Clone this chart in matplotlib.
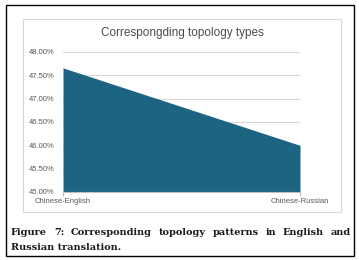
import matplotlib.pyplot as plt
from matplotlib.patches import Rectangle
from matplotlib.ticker import FuncFormatter

# data
categories = ['Chinese-English', 'Chinese-Russian']
values = [47.66, 46.00]
title = 'Correspongding topology types'
caption_line1 = 'Figure 7: Corresponding topology patterns in English and'
caption_line2 = 'Russian translation.'

W, H = 359, 260
fig = plt.figure(figsize=(W / 100, H / 100), dpi=100)

def fx(px):
    return px / W

def fy(py):
    return 1 - py / H

# outer black frame
fig.patches.append(Rectangle((fx(5.5), fy(256)), fx(348), 251 / H, transform=fig.transFigure,
                             fill=False, edgecolor='black', lw=1.0))
# chart frame
fig.patches.append(Rectangle((fx(23), fy(212)), fx(318), 193 / H, transform=fig.transFigure,
                             fill=False, edgecolor='#d9d9d9', lw=0.8))

ax = fig.add_axes([fx(63), fy(192), fx(237), 140 / H])
x = list(range(len(categories)))
ax.fill_between(x, values, 45, color='#1c6482', lw=0)
ax.set_xlim(0, 1)
ax.set_ylim(45, 48)
ax.set_yticks([45, 45.5, 46, 46.5, 47, 47.5, 48])
ax.yaxis.set_major_formatter(FuncFormatter(lambda v, p: f'{v:.2f}%'))
ax.grid(axis='y', color='#d9d9d9', lw=0.8)
ax.set_axisbelow(True)
for s in ['left', 'right', 'top']:
    ax.spines[s].set_visible(False)
ax.spines['bottom'].set_color('#bfbfbf')
ax.spines['bottom'].set_linewidth(0.8)
ax.set_xticks(x)
ax.set_xticklabels(categories)
ax.tick_params(axis='y', length=0, pad=6, labelsize=5.5, labelcolor='#595959')
ax.tick_params(axis='x', length=3, color='#bfbfbf', pad=1, labelsize=5.5, labelcolor='#595959')
for lab in ax.get_xticklabels() + ax.get_yticklabels():
    lab.set_family('Liberation Sans')

fig.text(fx(182), fy(33), title, ha='center', va='center', fontsize=8.5,
         color='#4d4d4d', family='Liberation Sans')

# justified caption first line
cap_kw = dict(fontsize=7.0, family='DejaVu Serif', fontweight='bold', color='#1a1a1a', va='baseline')
fig.canvas.draw()
r = fig.canvas.get_renderer()
words = caption_line1.split()
widths = []
for w in words:
    t = fig.text(0, 0, w, **cap_kw)
    widths.append(t.get_window_extent(r).width)
    t.remove()
left, right = 11, 351
gap = (right - left - sum(widths)) / (len(words) - 1)
pos = left
for w, wd in zip(words, widths):
    fig.text(fx(pos), fy(235), w, **cap_kw)
    pos += wd + gap
fig.text(fx(11), fy(250), caption_line2, **cap_kw)

fig.savefig('out.png', dpi=100)
